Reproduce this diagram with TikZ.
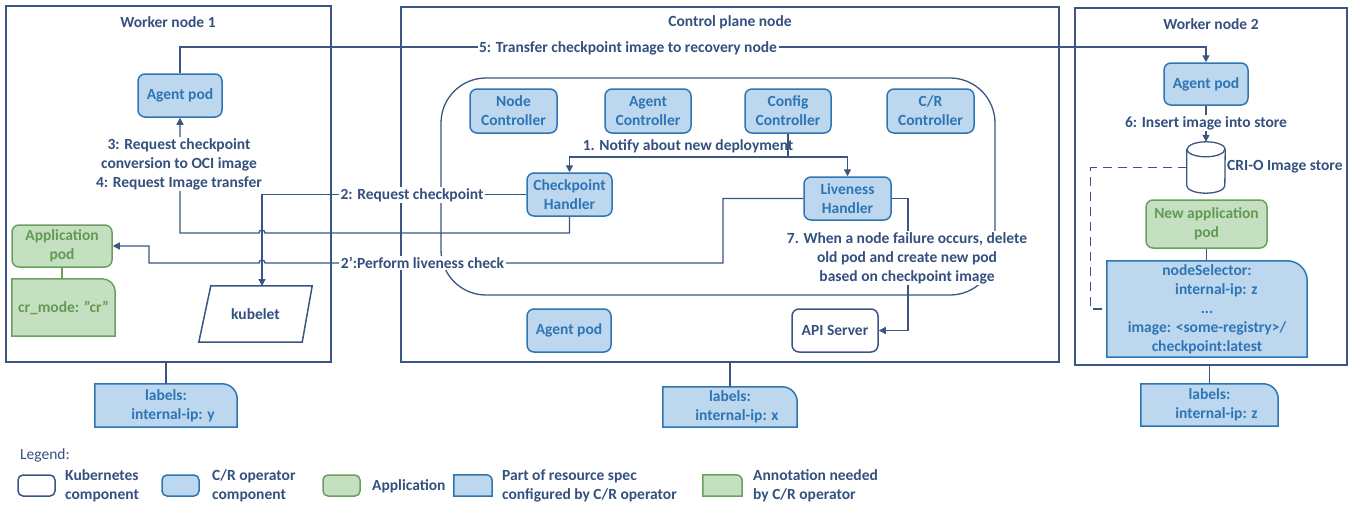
\documentclass[tikz,border=0pt]{standalone}
\usepackage{fontspec}
\setmainfont{Carlito}
\usetikzlibrary{arrows.meta,backgrounds,calc}
\definecolor{navy}{HTML}{3B5683}
\definecolor{navytext}{HTML}{34507F}
\definecolor{bfill}{HTML}{BDD7EE}
\definecolor{bdraw}{HTML}{2E75B6}
\definecolor{btext}{HTML}{2E75B6}
\definecolor{gfill}{HTML}{C5E0C0}
\definecolor{gdraw}{HTML}{6A9F5E}
\definecolor{gtext}{HTML}{629A55}
\newcommand\tabbox[3]{\draw[#2] (#1.south west) -- (#1.north west) -- ([xshift=-#3pt]#1.north east) arc[start angle=90,end angle=0,radius=#3pt] -- (#1.south east) -- cycle;}
\tikzset{
  every node/.style={font=\fontsize{15.5}{19}\selectfont\bfseries, text=navytext, align=center, inner sep=0pt},
  frame/.style={draw=navy, line width=1.6pt},
  bluebox/.style={draw=bdraw, fill=bfill, text=btext, rounded corners=7pt, line width=1.5pt},
  greenbox/.style={draw=gdraw, fill=gfill, text=gtext, rounded corners=7pt, line width=1.5pt},
  kbox/.style={draw=navy, fill=white, text=navytext, rounded corners=7pt, line width=1.5pt},
  btab/.style={draw=bdraw, fill=bfill, line width=1.5pt},
  gtab/.style={draw=gdraw, fill=gfill, line width=1.5pt},
  btabtext/.style={text=btext},
  gtabtext/.style={text=gtext},
  conn/.style={draw=navy, line width=1.3pt},
  gconn/.style={draw=gdraw, line width=1.3pt},
  arr/.style={conn, -{Triangle[length=7pt,width=7pt]}},
  lbl/.style={fill=white, inner sep=1.5pt, text=navytext},
}
\begin{document}
\begin{tikzpicture}[x=1pt,y=-1pt]
\useasboundingbox (0,0) rectangle (1351,506);
% frames
\node[frame, minimum width=325pt, minimum height=356pt] (wn1) at (168.5,184) {};
\node[frame, minimum width=658pt, minimum height=355pt] (cp) at (730,184.5) {};
\node[frame, minimum width=272pt, minimum height=357pt] (wn2) at (1211,186.5) {};
\node (t1) at (168,22) {Worker node 1};
\node (t2) at (730,22) {Control plane node};
\node (t3) at (1211,24) {Worker node 2};
\node[conn, rounded corners=45pt, minimum width=554pt, minimum height=217pt] (region) at (718,186.5) {};
% worker node 1
\node[bluebox, minimum width=84pt, minimum height=43pt] (agent1) at (180,95.5) {Agent pod};
\node[greenbox, minimum width=100pt, minimum height=42pt] (app) at (62,246) {Application\\pod};
\node[gtabtext, minimum width=103pt, minimum height=57pt] (crmode) at (63.5,307.5) {cr\_mode: "cr"};
\node[minimum width=113pt, minimum height=56pt] (kub) at (255.5,314) {kubelet};
\node[btabtext, minimum width=142pt, minimum height=43pt] (lab1) at (166,405.5) {labels:\\\hspace{0.9em}internal-ip: y};
% control plane
\node[bluebox, minimum width=87pt, minimum height=44pt] (nodectl) at (513.5,111) {Node\\Controller};
\node[bluebox, minimum width=86pt, minimum height=44pt] (agentctl) at (648,111) {Agent\\Controller};
\node[bluebox, minimum width=86pt, minimum height=44pt] (configctl) at (788,111) {Config\\Controller};
\node[bluebox, minimum width=87pt, minimum height=44pt] (crctl) at (930.5,111) {C/R\\Controller};
\node[bluebox, minimum width=85pt, minimum height=43pt] (ch) at (569.5,194.5) {Checkpoint\\Handler};
\node[bluebox, minimum width=87pt, minimum height=43pt] (lh) at (847.5,198.5) {Liveness\\Handler};
\node[bluebox, minimum width=84pt, minimum height=43pt] (agentcp) at (569,330.5) {Agent pod};
\node[kbox, minimum width=86pt, minimum height=43pt] (api) at (835,330.5) {API Server};
\node[btabtext, minimum width=134pt, minimum height=40pt] (labcp) at (730,407) {labels:\\\hspace{0.9em}internal-ip: x};
% worker node 2
\node[bluebox, minimum width=84pt, minimum height=42pt] (agent2) at (1206,84) {Agent pod};
\node[minimum width=38pt, minimum height=51pt] (store) at (1206,167.5) {};
\node[anchor=west] (storelbl) at (1227,167) {CRI-O Image store};
\node[greenbox, minimum width=121pt, minimum height=48pt] (newapp) at (1206.5,224) {New application\\pod};
\node[btabtext, minimum width=200pt, minimum height=96pt] (sel) at (1207,309) {nodeSelector:\\\hspace{1.2em}internal-ip: z\\...\\image: <some-registry>/\\checkpoint:latest};
\node[btabtext, minimum width=137pt, minimum height=42pt] (lab2) at (1209.5,405) {labels:\\\hspace{0.9em}internal-ip: z};
% legend
\node[anchor=west, font=\fontsize{15.5}{19}\selectfont] (leg) at (20,455) {Legend:};
\node[kbox, rounded corners=5pt, minimum width=37pt, minimum height=21pt] (lk) at (36.5,485.5) {};
\node[anchor=west, align=left] (lkt) at (65,485.5) {Kubernetes\\component};
\node[bluebox, rounded corners=5pt, minimum width=37pt, minimum height=21pt] (lc) at (180.5,485.5) {};
\node[anchor=west, align=left] (lct) at (212,485.5) {C/R operator\\component};
\node[greenbox, rounded corners=5pt, minimum width=37pt, minimum height=21pt] (la) at (341.5,485.5) {};
\node[anchor=west] (lat) at (372,486) {Application};
\node[minimum width=38pt, minimum height=21pt] (lp) at (473,485.5) {};
\node[anchor=west, align=left] (lpt) at (502,485.5) {Part of resource spec\\configured by C/R operator};
\node[minimum width=39pt, minimum height=21pt] (ln) at (722.5,485.5) {};
\node[anchor=west, align=left] (lnt) at (753,485.5) {Annotation needed\\by C/R operator};
% background shapes
\begin{scope}[on background layer]
\tabbox{crmode}{gtab}{13}
\tabbox{lab1}{btab}{15}
\tabbox{labcp}{btab}{15}
\tabbox{sel}{btab}{20}
\tabbox{lab2}{btab}{15}
\tabbox{lp}{btab}{6}
\tabbox{ln}{gtab}{6}
\draw[conn, line width=1.5pt, fill=white] ([xshift=12pt]kub.north west) -- (kub.north east) -- ([xshift=-10pt]kub.south east) -- (kub.south west) -- cycle;
\draw[conn, fill=white] ([yshift=-7.5pt]store.north west) -- ([yshift=7.5pt]store.south west) arc[start angle=180,end angle=360,x radius=19pt,y radius=7.5pt] -- ([yshift=-7.5pt]store.north east) arc[start angle=0,end angle=180,x radius=19pt,y radius=7.5pt] -- cycle;
\draw[conn] ([yshift=-7.5pt]store.north west) arc[start angle=180,end angle=360,x radius=19pt,y radius=7.5pt];
\end{scope}
% helper coordinates
\coordinate (y5) at (0,47);
\coordinate (y1) at (0,157);
\coordinate (kubtop) at (262,286);
\coordinate (x908) at (908,0);
% connectors
\draw[arr] (agent1.north) |- (agent2.north |- y5) -- (agent2.north);
\draw[arr] (ch.south) |- (265,233) arc[start angle=0,end angle=180,radius=3pt] -- (180,233) -- (agent1.south);
\draw[arr] (ch.west) -| (kubtop);
\draw[arr] (lh.west) -| (723,263) -- (265,263) arc[start angle=0,end angle=180,radius=3pt] -- (149,263) |- (app.east);
\draw[arr] (configctl.south) -- (configctl.south |- y1) -| (ch.north);
\draw[arr] (configctl.south) -- (configctl.south |- y1) -| (lh.north);
\draw[arr] (lh.east) -| (x908 |- api.east) -- (api.east);
\draw[arr] (agent2.south) -- (store.north);
\draw[conn, dash pattern=on 9pt off 6pt] (store.west) -| ($(sel.west)+(-16,0)$) -- (sel.west);
\draw[conn] (newapp.south) -- (newapp.south |- sel.north);
\draw[gconn] (app.south) -- (app.south |- crmode.north);
\draw[conn] (wn1.south -| lab1.north) -- (lab1.north);
\draw[conn] (cp.south -| labcp.north) -- (labcp.north);
\draw[conn] (wn2.south -| lab2.north) -- (lab2.north);
% connector labels
\node[lbl] (l5) at (628,48) {5: Transfer checkpoint image to recovery node};
\node[lbl] (l34) at (179,164) {3: Request checkpoint\\conversion to OCI image\\4: Request Image transfer};
\node[lbl] (l2) at (412,195) {2: Request checkpoint};
\node[lbl] (l2p) at (422.5,263) {2':Perform liveness check};
\node (l1) at (688,146) {1. Notify about new deployment};
\node[lbl] (l7) at (907,258) {7. When a node failure occurs, delete\\old pod and create new pod\\based on checkpoint image};
\node[lbl] (l6) at (1206,123) {6: Insert image into store};
\end{tikzpicture}
\end{document}
